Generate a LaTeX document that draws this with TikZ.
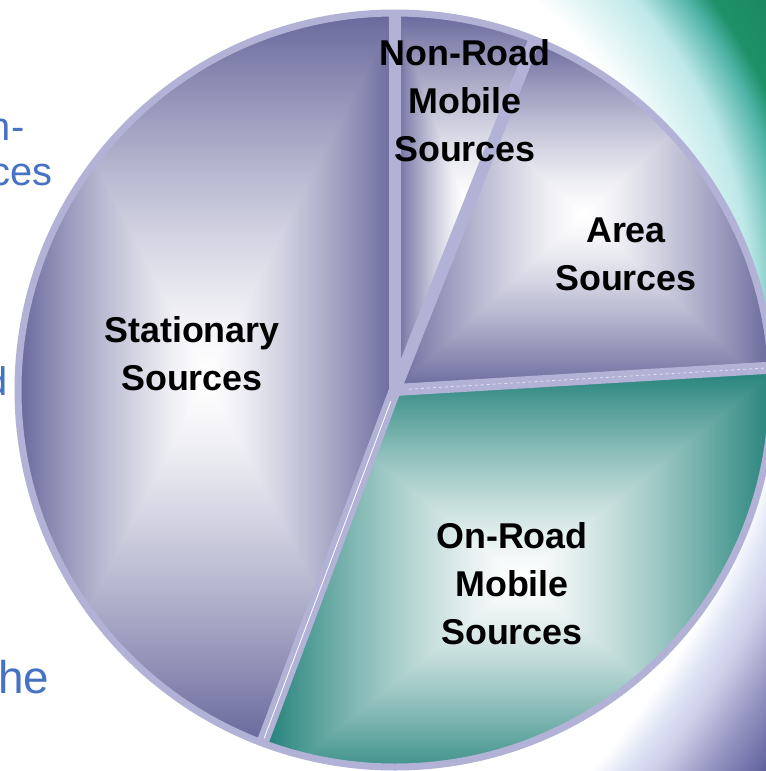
\documentclass[tikz,border=0pt]{standalone}
\usepackage{fontspec}
\setmainfont{Liberation Sans}
\usetikzlibrary{calc}
\definecolor{rimlilac}{RGB}{178,178,214}
\definecolor{textblue}{RGB}{70,114,196}
\definecolor{glowpale}{RGB}{226,245,245}
\definecolor{glowcyan}{RGB}{190,232,232}
\definecolor{glowteal}{RGB}{80,180,168}
\definecolor{glowgreen}{RGB}{30,145,105}
\definecolor{deepgreen}{RGB}{22,130,92}
\definecolor{haze}{RGB}{222,228,245}
\definecolor{lilaclight}{RGB}{205,205,232}
\definecolor{lilacmid}{RGB}{150,150,195}
\definecolor{lilacdark}{RGB}{100,100,160}
% fills that fade from the middle of the box to its edges
\pgfdeclarefunctionalshading{purplebox}{\pgfpointorigin}{\pgfpoint{100bp}{100bp}}{}{
  50 sub abs exch 50 sub abs 2 copy lt {exch} if pop
  25 div dup 1 gt {pop 1} if 1.3 exp
  dup dup
  0.388 mul 1 exch sub 3 1 roll
  0.592 mul 1 exch sub 3 1 roll
  0.592 mul 1 exch sub 3 1 roll
}
\pgfdeclarefunctionalshading{tealbox}{\pgfpointorigin}{\pgfpoint{100bp}{100bp}}{}{
  50 sub abs exch 50 sub abs 2 copy lt {exch} if pop
  25 div dup 1 gt {pop 1} if 1.3 exp
  dup dup
  0.529 mul 1 exch sub 3 1 roll
  0.498 mul 1 exch sub 3 1 roll
  0.875 mul 1 exch sub 3 1 roll
}
\pgfdeclareradialshading{greenglow}{\pgfpointorigin}{color(0bp)=(white); color(10.56bp)=(white); color(11.39bp)=(glowpale); color(12.5bp)=(glowcyan); color(13.61bp)=(glowteal); color(14.17bp)=(glowgreen); color(16.67bp)=(deepgreen); color(50bp)=(deepgreen)}
\pgfdeclareradialshading{lilacglow}{\pgfpointorigin}{color(0bp)=(white); color(19.55bp)=(white); color(20.11bp)=(haze); color(20.68bp)=(lilaclight); color(21.59bp)=(lilacmid); color(22.61bp)=(lilacdark); color(50bp)=(lilacdark)}
\newcommand\pierad{377}

\begin{document}
\begin{tikzpicture}[x=1bp,y=1bp,
    rim/.style={draw=rimlilac,line width=7bp},
    spoke/.style={draw=rimlilac,line width=12bp},
    slicetext/.style={font=\fontsize{36}{48.5}\selectfont\bfseries,align=center,inner sep=0pt},
    sidetext/.style={text=textblue,inner sep=0pt,anchor=base east}]
  \useasboundingbox (0,0) rectangle (766,-771);
  \clip (0,0) rectangle (766,-771);
  \fill[white] (0,0) rectangle (766,-771);
  \begin{scope}
    \clip (450,0) rectangle (766,-390);
    \shade[shading=greenglow] (300,-300) circle (900);
  \end{scope}
  \begin{scope}
    \clip (550,-390) rectangle (766,-771);
    \shade[shading=lilacglow] (-54,-201) circle (1100);
  \end{scope}
  % slide text behind the chart
  \node[sidetext,font=\fontsize{40}{48}\selectfont] (line1) at (24.5,-140) {n-};
  \node[sidetext,font=\fontsize{40}{48}\selectfont] (line2) at (53,-185) {ces};
  \node[sidetext,font=\fontsize{40}{48}\selectfont] (line3) at (7.8,-395) {d};
  \node[sidetext,font=\fontsize{46}{54}\selectfont] (line4) at (49.5,-693) {he};
  % the pie
  \coordinate (O) at (395,-390);
  \shade[shading=purplebox] (O) -- ++(90:\pierad) arc (90:249.4:\pierad) -- cycle;
  \shade[shading=tealbox] (O) -- ++(249.4:\pierad) arc (249.4:363.4:\pierad) -- cycle;
  \shade[shading=purplebox] (O) -- ++(3.4:\pierad) arc (3.4:68.3:\pierad) -- cycle;
  \shade[shading=purplebox] (O) -- ++(68.3:\pierad) arc (68.3:90:\pierad) -- cycle;
  \draw[rim] (O) circle (\pierad);
  \foreach \a in {90,68.3,3.4,249.4}
    \draw[spoke] (O) -- ++(\a:\pierad);
  \draw[white,line width=0.8bp] ($(O)+(249.4:12)$) -- ($(O)+(249.4:372)$);
  \draw[white,line width=0.8bp,dashed,opacity=0.6] ($(O)+(3.4:14)$) -- ($(O)+(3.4:372)$);
  \node[slicetext] (stationary) at (192,-353.5) {Stationary\\Sources};
  \node[slicetext] (nonroad) at (465,-100.5) {Non-Road\\Mobile\\Sources};
  \node[slicetext] (area) at (626,-254.5) {Area\\Sources};
  \node[slicetext] (onroad) at (512,-583.5) {On-Road\\Mobile\\Sources};
\end{tikzpicture}
\end{document}
